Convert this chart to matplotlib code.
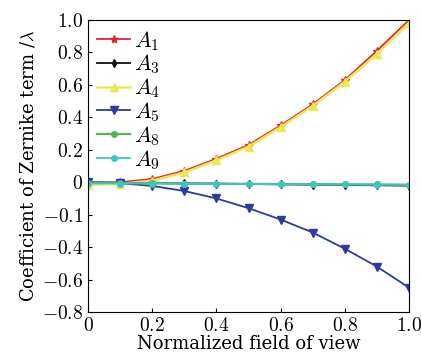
import matplotlib
matplotlib.use("Agg")
import matplotlib.pyplot as plt

plt.rcParams['font.family'] = ['DejaVu Serif']
plt.rcParams['mathtext.fontset'] = 'cm'
plt.rcParams['axes.unicode_minus'] = False

x = [0, 0.1, 0.2, 0.3, 0.4, 0.5, 0.6, 0.7, 0.8, 0.9, 1.0]
a1 = [-0.005, 0.0, 0.02, 0.07, 0.145, 0.23, 0.35, 0.48, 0.63, 0.81, 1.0]
a3 = [0.0, -0.003, -0.005, -0.007, -0.009, -0.011, -0.013, -0.015, -0.017, -0.019, -0.021]
a4 = [-0.015, -0.01, 0.01, 0.06, 0.135, 0.22, 0.34, 0.47, 0.62, 0.79, 0.98]
a5 = [0.0, -0.006, -0.023, -0.054, -0.1, -0.16, -0.23, -0.31, -0.41, -0.52, -0.65]
a8 = [-0.002, -0.004, -0.006, -0.008, -0.009, -0.01, -0.011, -0.012, -0.013, -0.014, -0.016]
a9 = [-0.008, -0.008, -0.008, -0.009, -0.01, -0.011, -0.012, -0.013, -0.014, -0.015, -0.016]

yticks = [-0.8, -0.6, -0.4, -0.2, 0, 0.2, 0.4, 0.6, 0.8, 1.0]
ytick_labels = ['$-0.8$', '$-0.6$', '$-0.4$', '$-0.1$', '$0$', '$0.2$', '$0.4$', '$0.6$', '$0.8$', '$1.0$']
xticks = [0, 0.2, 0.4, 0.6, 0.8, 1.0]
xtick_labels = ['$0$', '$0.2$', '$0.4$', '$0.6$', '$0.8$', '$1.0$']

fig = plt.figure(figsize=(4.22, 3.56), dpi=100)
ax = fig.add_axes([88 / 422, 44 / 356, 321 / 422, 292 / 356])

ax.plot(x, a1, color='#e0282e', marker='*', ms=6, lw=1.3, label='$A_1$')
ax.plot(x, a3, color='#111111', marker='d', ms=4, lw=1.3, label='$A_3$')
ax.plot(x, a4, color='#eaea50', marker='^', ms=6, lw=1.8, label='$A_4$')
ax.plot(x, a5, color='#2a3c9e', marker='v', ms=6, lw=1.3, label='$A_5$')
ax.plot(x, a8, color='#55b455', marker='o', ms=4, lw=1.6, label='$A_8$')
ax.plot(x, a9, color='#3fc4c4', marker='o', ms=4, lw=1.3, label='$A_9$')

ax.set_xlim(0, 1.0)
ax.set_ylim(-0.8, 1.0)
ax.set_xticks(xticks)
ax.set_xticklabels(xtick_labels)
ax.set_yticks(yticks)
ax.set_yticklabels(ytick_labels)
ax.tick_params(direction='in', labelsize=14, length=3)
ax.set_xlabel('Normalized field of view', fontsize=13, labelpad=0)
ax.set_ylabel('Coefficient of Zernike term /$\\lambda$', fontsize=13, labelpad=3)

ax.legend(loc='upper left', frameon=False, fontsize=16, handlelength=1.5,
          handletextpad=0.15, labelspacing=0.0, borderaxespad=0.1,
          borderpad=0.3)

fig.savefig('out.png', dpi=100)
